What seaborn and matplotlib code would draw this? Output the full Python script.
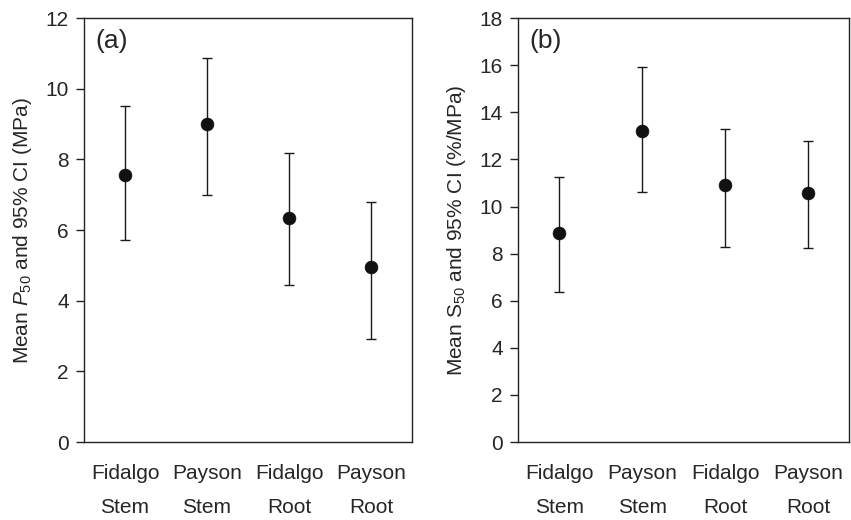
import matplotlib
matplotlib.use("Agg")
import matplotlib.pyplot as plt
import seaborn as sns
import pandas as pd

# groups, same order in both panels
populations = ["Fidalgo", "Payson", "Fidalgo", "Payson"]
organs = ["Stem", "Stem", "Root", "Root"]

# (a) P50, MPa
p50_mean = [7.57, 9.0, 6.35, 4.95]
p50_low = [5.71, 7.0, 4.44, 2.93]
p50_high = [9.52, 10.88, 8.19, 6.79]

# (b) S50, %/MPa
s50_mean = [8.87, 13.22, 10.92, 10.56]
s50_low = [6.35, 10.6, 8.29, 8.23]
s50_high = [11.27, 15.92, 13.31, 12.79]

sns.set_style("white")
plt.rcParams['font.family'] = ['Liberation Sans', 'DejaVu Sans']
plt.rcParams['mathtext.fontset'] = 'custom'
plt.rcParams['mathtext.rm'] = 'Liberation Sans'
plt.rcParams['mathtext.it'] = 'Liberation Sans:italic'

fig = plt.figure(figsize=(8.51, 5.2), dpi=100)
ax_a = fig.add_axes([0.0987, 0.15, 0.3855, 0.815])
ax_b = fig.add_axes([0.6087, 0.15, 0.3895, 0.815])


def draw_panel(ax, mean, low, high, ymax, ylabel, tag):
    df = pd.DataFrame({"group": [f"{p} {o}" for p, o in zip(populations, organs)],
                       "mean": mean, "low": low, "high": high})
    df["err_lo"] = df["mean"] - df["low"]
    df["err_hi"] = df["high"] - df["mean"]
    ax.errorbar(range(len(df)), df["mean"], yerr=[df["err_lo"], df["err_hi"]],
                fmt="none", ecolor="#1a1a1a", elinewidth=1.0, capsize=3.3, capthick=1.0, zorder=2)
    sns.scatterplot(data=df, x="group", y="mean", ax=ax, color="#111111", s=85,
                    edgecolor="#111111", linewidth=0.5, zorder=3)
    ax.set_xlim(-0.5, 3.5)
    ax.set_ylim(0, ymax)
    ax.set_yticks(range(0, ymax + 1, 2))
    # two rows of x labels: population on major ticks, organ on minor ticks
    ax.xaxis.remove_overlapping_locs = False
    ax.set_xticks(range(len(populations)))
    ax.set_xticklabels(populations)
    ax.set_xticks(range(len(organs)), minor=True)
    ax.set_xticklabels(organs, minor=True)
    ax.set_xlabel("")
    ax.set_ylabel(ylabel, fontsize=15, labelpad=8)
    for s in ax.spines.values():
        s.set_color("#222222")
        s.set_linewidth(1.0)
    ax.tick_params(axis="y", left=True, length=6, width=1.0, color="#222222",
                   labelsize=15, pad=5)
    ax.tick_params(axis="x", which="major", bottom=False, labelsize=15, pad=12)
    ax.tick_params(axis="x", which="minor", bottom=False, labelsize=15, pad=38.5)
    ax.text(0.035, 0.975, tag, transform=ax.transAxes, fontsize=19, va="top", ha="left")


draw_panel(ax_a, p50_mean, p50_low, p50_high, 12,
           r"Mean $\mathit{P}_{50}$ and 95% CI (MPa)", "(a)")
draw_panel(ax_b, s50_mean, s50_low, s50_high, 18,
           r"Mean $\mathrm{S}_{50}$ and 95% CI (%/MPa)", "(b)")

fig.savefig("out.png", dpi=100)
